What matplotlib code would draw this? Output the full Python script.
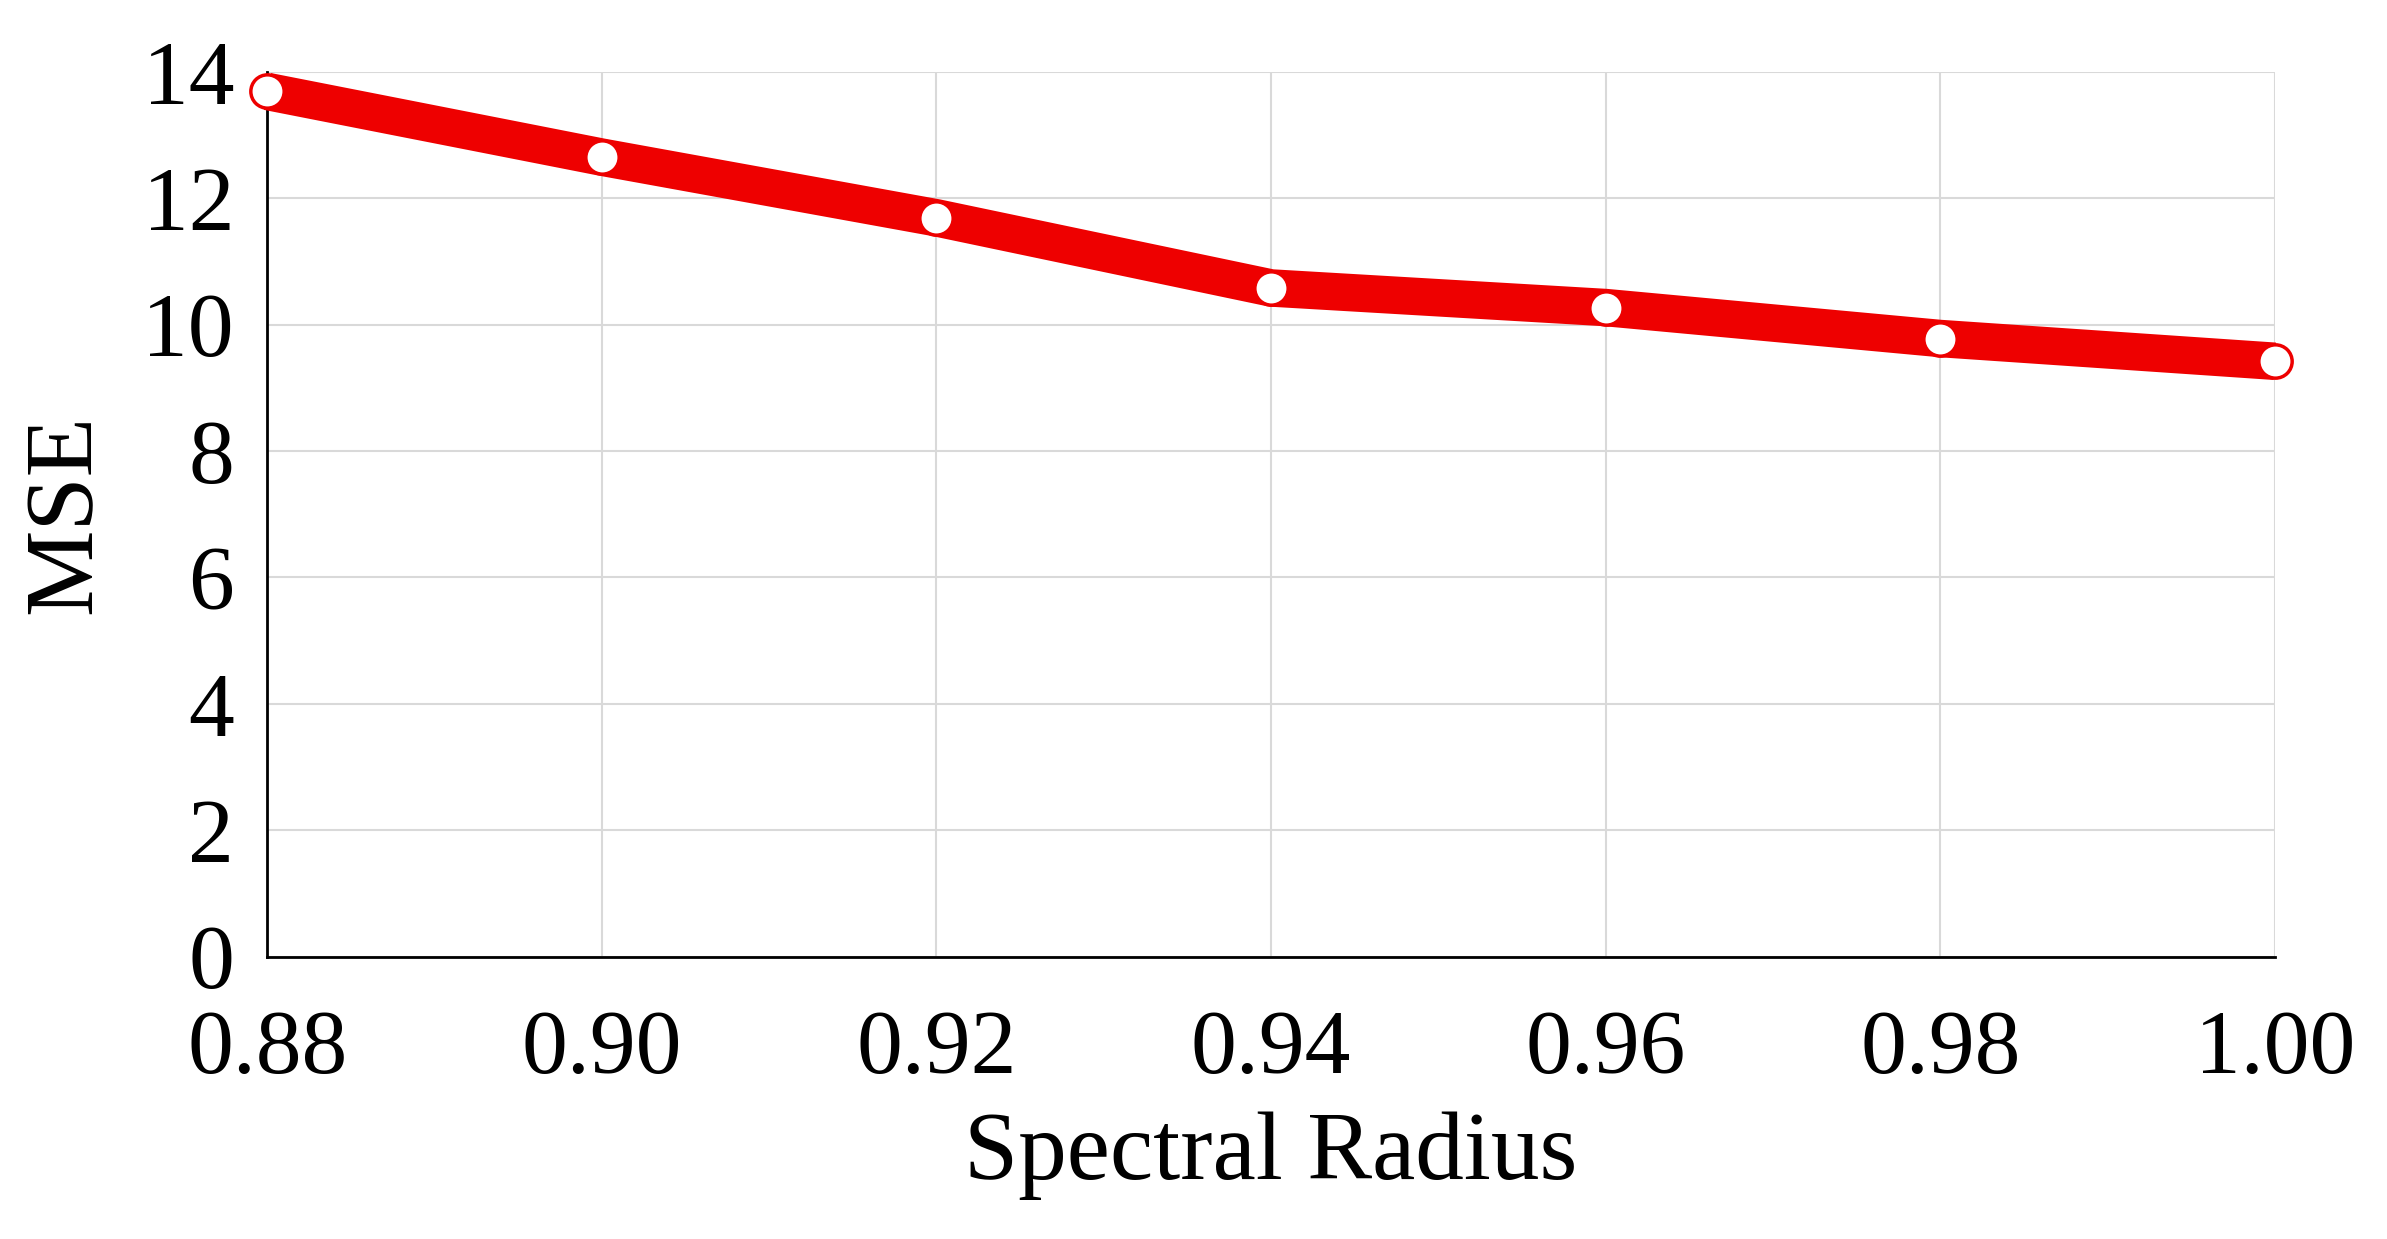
import matplotlib
matplotlib.use("Agg")
import matplotlib.pyplot as plt

# data
spectral_radius = [0.88, 0.90, 0.92, 0.94, 0.96, 0.98, 1.00]
mse = [13.69, 12.65, 11.69, 10.58, 10.27, 9.78, 9.42]
x_ticks = [0.88, 0.90, 0.92, 0.94, 0.96, 0.98, 1.00]
y_ticks = [0, 2, 4, 6, 8, 10, 12, 14]

plt.rcParams["font.family"] = ["Liberation Serif", "DejaVu Serif"]

fig = plt.figure(figsize=(23.87, 12.39), dpi=100)
ax = fig.add_axes([0.112, 0.228, 0.841, 0.714])

ax.plot(spectral_radius, mse, color="#ee0000", linewidth=27, solid_capstyle="butt",
        marker="o", markersize=24, markerfacecolor="white", markeredgecolor="#ee0000",
        markeredgewidth=2.5, zorder=3, clip_on=False)

ax.set_xlim(0.88, 1.00)
ax.set_ylim(0, 14)
ax.set_xticks(x_ticks)
ax.set_xticklabels([f"{v:.2f}" for v in x_ticks])
ax.set_yticks(y_ticks)
ax.grid(True, color="#d9d9d9", linewidth=1.5)
ax.set_axisbelow(True)

for s in ["top", "right"]:
    ax.spines[s].set_visible(False)
for s in ["left", "bottom"]:
    ax.spines[s].set_linewidth(2)
ax.tick_params(axis="both", labelsize=66, direction="in", length=0)
ax.tick_params(axis="x", pad=38)
ax.tick_params(axis="y", pad=24)

ax.set_xlabel("Spectral Radius", fontsize=70, labelpad=14)
ax.set_ylabel("MSE", fontsize=70, labelpad=22)

fig.savefig("out.png", dpi=100, facecolor="white")
